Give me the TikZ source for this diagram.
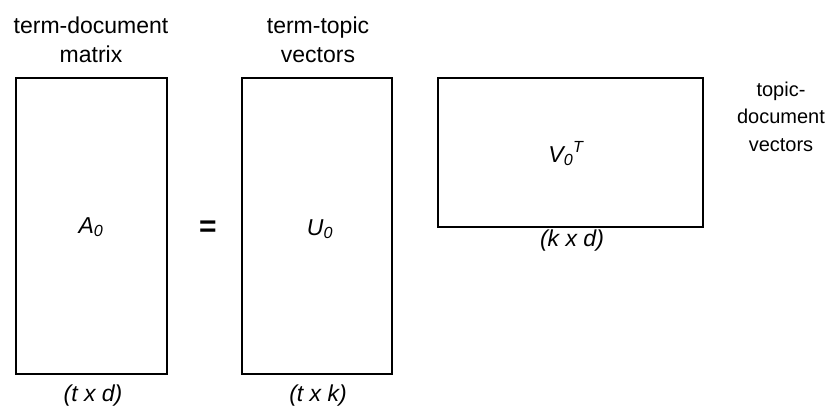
\documentclass[tikz,border=0pt]{standalone}
\usepackage{fontspec}
\setmainfont{Liberation Sans}
\begin{document}
\begin{tikzpicture}[x=1pt,y=-1pt,
  mat/.style={draw=black, line width=1.2pt, inner sep=0pt},
  lbl/.style={font=\fontsize{23}{29}\selectfont, align=center, inner sep=0pt},
  dim/.style={font=\fontsize{23}{28}\selectfont\itshape, inner sep=0pt},
  sym/.style={font=\fontsize{23}{28}\selectfont\itshape, inner sep=0pt}]
\useasboundingbox (0,0) rectangle (825,407);
% boxes
\node[mat, minimum width=151pt, minimum height=296pt] (A) at (91.5,226) {};
\node[mat, minimum width=150pt, minimum height=296pt] (U) at (317,226) {};
\node[mat, minimum width=265pt, minimum height=149pt] (V) at (570.5,152.5) {};
% symbols
\node[sym, anchor=base] (a0) at (91,233) {A\textsubscript{0}};
\node[sym, anchor=base] (u0) at (320,235) {U\textsubscript{0}};
\node[sym, anchor=base] (v0) at (566,162) {V\textsubscript{0}\textsuperscript{T}};
\node[font=\fontsize{30}{30}\selectfont\bfseries, inner sep=0pt] (eq) at (208,229) {=};
% titles
\node[lbl, anchor=base] (ta) at (91,62) {term-document\\matrix};
\node[lbl, anchor=base] (tu) at (318,62) {term-topic\\vectors};
\node[lbl, font=\fontsize{20}{27.5}\selectfont, anchor=base] (tv) at (781,151) {topic-\\document\\vectors};
% dimensions
\node[dim, anchor=base] (da) at (93,401) {(t x d)};
\node[dim, anchor=base] (du) at (318,401) {(t x k)};
\node[dim, anchor=base] (dv) at (572,246) {(k x d)};
\end{tikzpicture}
\end{document}
